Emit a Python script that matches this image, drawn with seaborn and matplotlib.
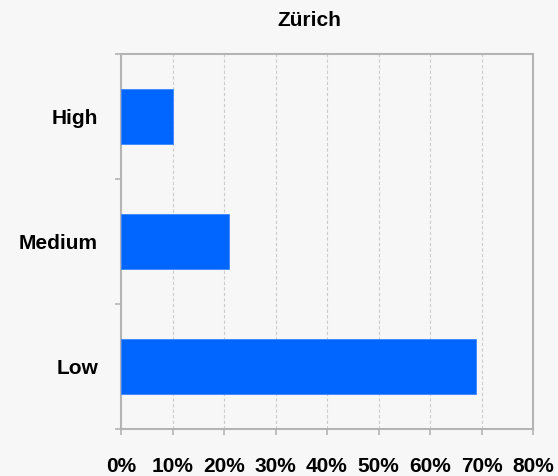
import numpy as np
import pandas as pd
import matplotlib.pyplot as plt
from matplotlib.ticker import FuncFormatter, FixedLocator
import seaborn as sns

levels = ['High', 'Medium', 'Low']
shares = [10, 21, 69]
x_ticks = [0, 10, 20, 30, 40, 50, 60, 70, 80]

df = pd.DataFrame({'level': levels, 'share': shares})

sns.set_style('white')
plt.rcParams['font.family'] = ['Liberation Sans', 'DejaVu Sans']
plt.rcParams['text.color'] = 'black'
plt.rcParams['xtick.labelcolor'] = 'black'
plt.rcParams['ytick.labelcolor'] = 'black'

bg = '#f7f7f7'
spine_col = '#b4b4b4'

fig = plt.figure(figsize=(5.58, 4.76), dpi=100, facecolor=bg)
ax = fig.add_axes([121 / 558, 1 - 429 / 476, 412 / 558, 375 / 476])
ax.set_facecolor(bg)

sns.barplot(df, x='share', y='level', orient='h', color='#0066ff',
            saturation=1, width=0.44, edgecolor='#3a86ff', linewidth=0.6,
            ax=ax, zorder=3)

ax.set_xlim(0, 80)
ax.set_ylim(2.5, -0.5)
ax.set_xticks(x_ticks)
ax.xaxis.set_major_formatter(FuncFormatter(lambda v, p: f'{v:.0f}%'))
ax.grid(axis='x', color='#cdcdcd', linestyle=(0, (3, 2)), linewidth=0.8, zorder=0)
ax.set_axisbelow(True)

ax.yaxis.set_minor_locator(FixedLocator([-0.5, 0.5, 1.5, 2.5]))
ax.tick_params(axis='y', which='major', length=0, pad=16.5, labelsize=15, labelcolor='black')
ax.tick_params(axis='y', which='minor', length=4, width=1.2, color=spine_col, direction='out', left=True)
ax.tick_params(axis='x', which='major', length=4, width=1.2, color=spine_col, direction='out',
               bottom=True, pad=16.5, labelsize=15, labelcolor='black')
for lab in ax.get_xticklabels() + ax.get_yticklabels():
    lab.set_fontweight('bold')

for s in ax.spines.values():
    s.set_visible(True)
    s.set_color(spine_col)
    s.set_linewidth(1.5)

ax.set_xlabel('')
ax.set_ylabel('')
ax.set_title('Zürich', fontsize=15, fontweight='bold', pad=20, x=0.456, color='black')

fig.savefig('out.png', dpi=100, facecolor=bg)
